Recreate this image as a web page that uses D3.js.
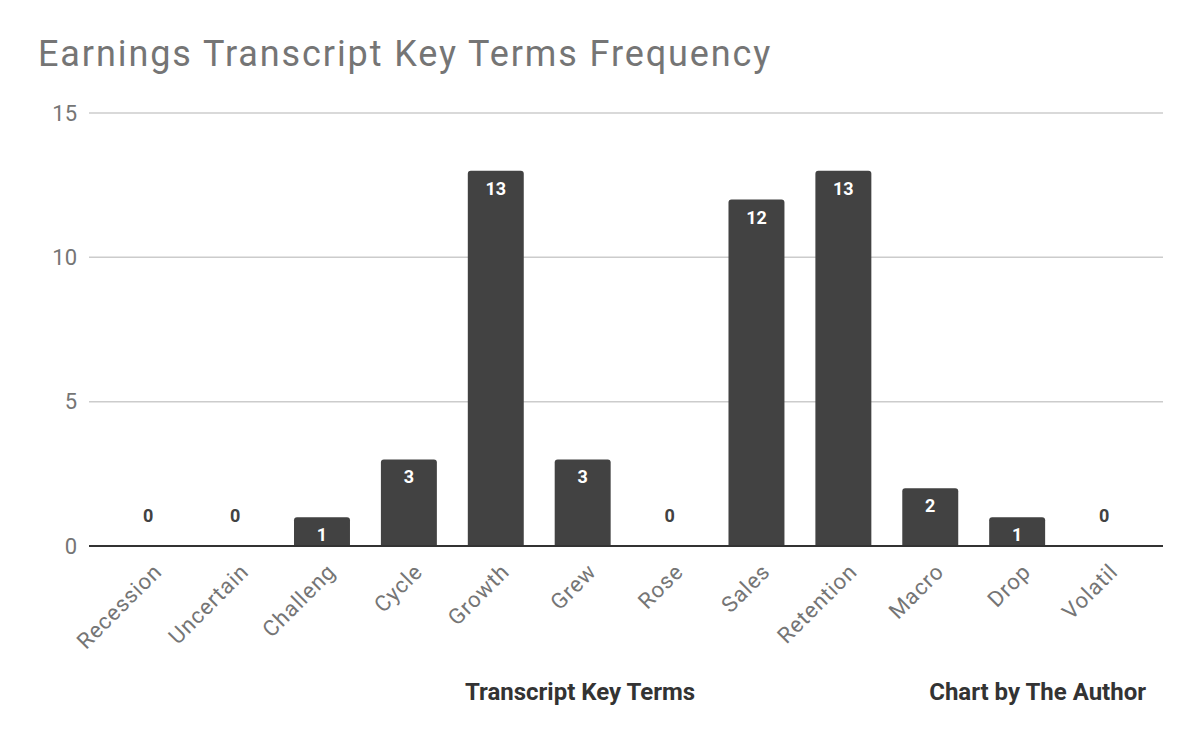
<!DOCTYPE html>
<html><head><meta charset="utf-8">
<script src="https://cdn.jsdelivr.net/npm/d3@7"></script>
<style>body{margin:0;background:#fff}svg{display:block}</style>
</head><body>
<svg id="c" width="1200" height="741"></svg>
<script>
const categories = ["Recession","Uncertain","Challeng","Cycle","Growth","Grew","Rose","Sales","Retention","Macro","Drop","Volatil"];
const values = [0,0,1,3,13,3,0,12,13,2,1,0];
const yTicks = [0,5,10,15];
const title = "Earnings Transcript Key Terms Frequency";
const xTitle = "Transcript Key Terms";
const credit = "Chart by The Author";

const svg = d3.select("#c");
const gridL = 89, gridR = 1163;
const x = d3.scaleBand().domain(categories).range([104.75, 1147.5]).paddingInner(0.356).paddingOuter(0.178);
const y = d3.scaleLinear().domain([0,15]).range([546,113]);

svg.append("text").attr("x",38).attr("y",66).attr("font-family","Roboto").attr("font-size",36)
  .attr("letter-spacing","1.9px").attr("fill","#757575").text(title);

// gridlines
svg.append("g").selectAll("line").data(yTicks.filter(d=>d>0)).join("line")
  .attr("x1",gridL).attr("x2",gridR).attr("y1",d=>y(d)).attr("y2",d=>y(d))
  .attr("stroke","#cccccc").attr("stroke-width",1.5);

// y axis labels
const ya = svg.append("g").attr("transform",`translate(${gridL},0)`)
  .call(d3.axisLeft(y).tickValues(yTicks).tickSize(0).tickPadding(12));
ya.select(".domain").remove();
ya.selectAll("text").attr("font-family","Roboto").attr("font-size",22).attr("fill","#757575");

// bars with rounded top corners
const r = 3;
function barPath(d){
  const x0 = x(d.c), w = x.bandwidth(), y0 = y(d.v), y1 = y(0);
  if (d.v === 0) return "";
  return `M${x0},${y1}V${y0+r}Q${x0},${y0} ${x0+r},${y0}H${x0+w-r}Q${x0+w},${y0} ${x0+w},${y0+r}V${y1}Z`;
}
const data = categories.map((c,i)=>({c, v: values[i]}));
svg.append("g").selectAll("path").data(data).join("path")
  .attr("d",barPath).attr("fill","#424242");

// value labels
svg.append("g").selectAll("text").data(data).join("text")
  .attr("x",d=>x(d.c)+x.bandwidth()/2)
  .attr("y",d=> d.v===0 ? y(0)-24 : y(d.v)+24)
  .attr("text-anchor","middle").attr("font-family","Roboto").attr("font-weight","bold").attr("font-size",18)
  .attr("fill",d=> d.v===0 ? "#424242" : "#ffffff").text(d=>d.v);

// baseline
svg.append("line").attr("x1",gridL).attr("x2",gridR).attr("y1",y(0)).attr("y2",y(0))
  .attr("stroke","#333333").attr("stroke-width",2);

// x axis labels
const xa = svg.append("g").attr("transform",`translate(0,${y(0)})`)
  .call(d3.axisBottom(x).tickSize(0).tickPadding(0));
xa.select(".domain").remove();
xa.selectAll("text").attr("font-family","Roboto").attr("font-size",22).attr("letter-spacing","0.9px").attr("fill","#757575")
  .attr("text-anchor","end").attr("dy",null).attr("y",null)
  .attr("transform","translate(15,27) rotate(-45)");

svg.append("text").attr("x",580).attr("y",700).attr("text-anchor","middle")
  .attr("font-family","Roboto").attr("font-weight","bold").attr("font-size",24).attr("fill","#333333").text(xTitle);
svg.append("text").attr("x",1146).attr("y",700).attr("text-anchor","end")
  .attr("font-family","Roboto").attr("font-weight","bold").attr("font-size",24).attr("fill","#333333").text(credit);
</script>
</body></html>
